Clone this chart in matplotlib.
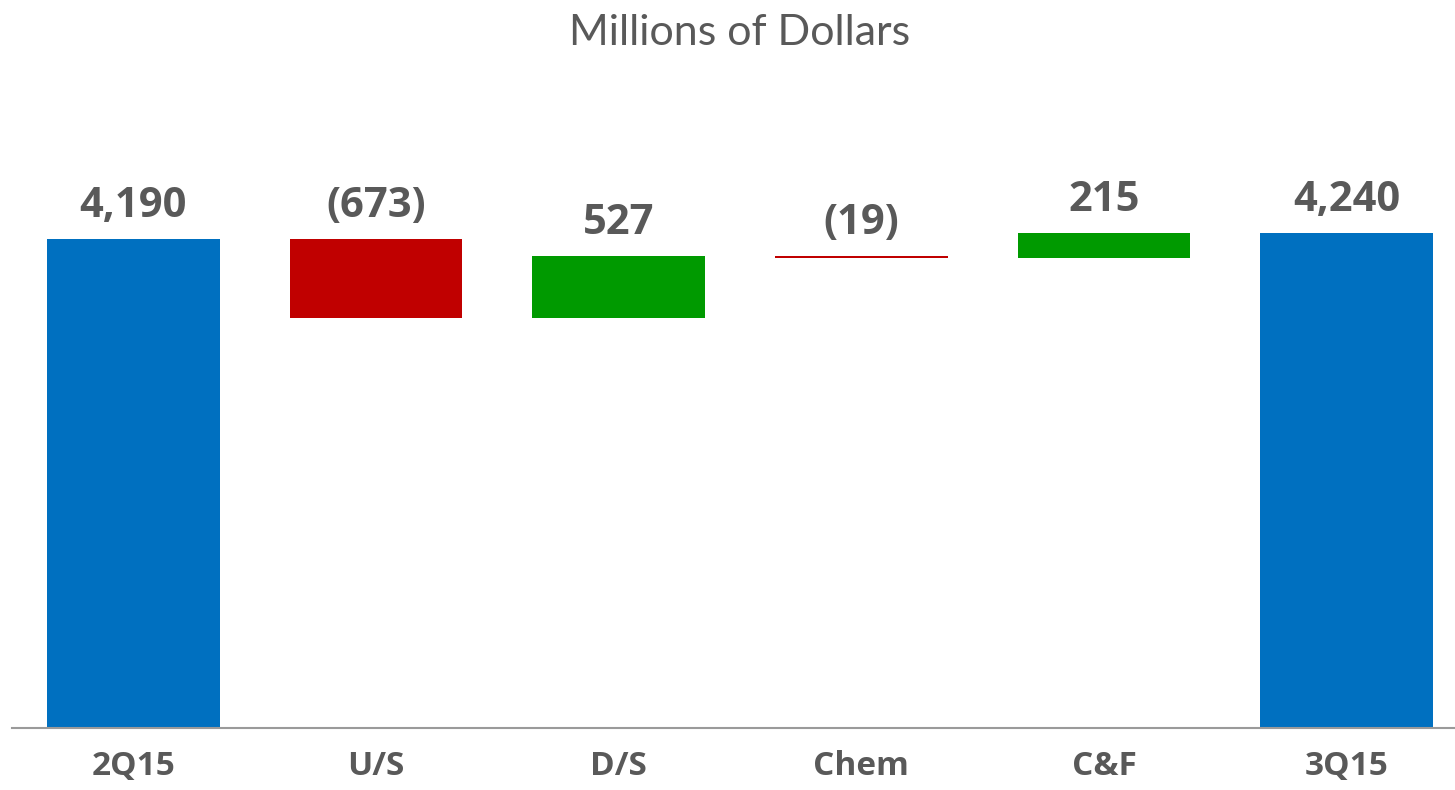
import matplotlib.pyplot as plt
import numpy as np

# data
categories = ["2Q15", "U/S", "D/S", "Chem", "C&F", "3Q15"]
values = [4190, -673, 527, -19, 215, 4240]
labels = ["4,190", "(673)", "527", "(19)", "215", "4,240"]
kinds = ["total", "delta", "delta", "delta", "delta", "total"]

blue = "#0070C0"
red = "#C00000"
green = "#009A00"
grey = "#595959"

fig = plt.figure(figsize=(14.55, 7.9), dpi=100)
ax = fig.add_axes([12 / 1455, 62 / 790, 1443 / 1455, 628 / 790])

x = np.arange(len(categories))
running = 0
for i, (v, k) in enumerate(zip(values, kinds)):
    if k == "total":
        bottom, height, color = 0, v, blue
        running = v
    else:
        bottom = running
        height = v
        color = green if v > 0 else red
        running += v
    ax.bar(x[i], height, bottom=bottom, width=0.712, color=color, linewidth=0)
    top = max(bottom, bottom + height)
    ax.annotate(labels[i], (x[i], top), xytext=(0, 9), textcoords="offset points",
                ha="center", va="bottom", fontsize=30, fontweight="bold",
                color=grey, family="Open Sans")

ax.set_xlim(-0.5, 5.446)
ax.set_ylim(0, 628 / 0.1167)
ax.set_xticks(x)
ax.set_xticklabels(categories, fontsize=24, fontweight="bold", color=grey, family="Open Sans")
ax.tick_params(axis="x", length=0, pad=16)
ax.set_yticks([])
for s in ["top", "right", "left"]:
    ax.spines[s].set_visible(False)
ax.spines["bottom"].set_color("#9a9a9a")
ax.spines["bottom"].set_linewidth(1.5)

fig.text(740 / 1455, 1 - 33 / 790, "Millions of Dollars", ha="center", va="center",
         fontsize=31, fontweight="normal", color=grey, family="Lato")

fig.savefig("out.png", dpi=100)
